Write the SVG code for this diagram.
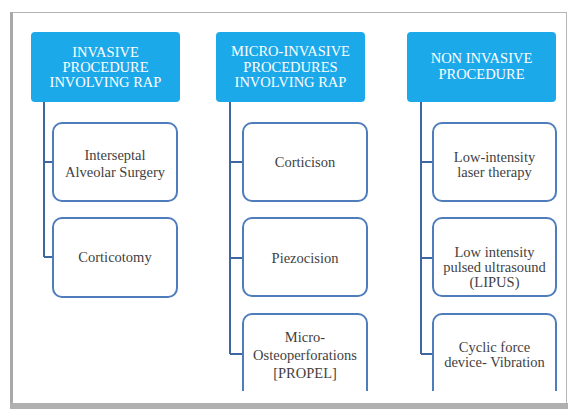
<svg xmlns="http://www.w3.org/2000/svg" width="568" height="409" viewBox="0 0 568 409">
  <style>
    .frame { fill: #ffffff; stroke: #b4b4b4; stroke-width: 1; }
    .head { fill: #1ba9ea; }
    .head-text { font-size: 14.5px; fill: #ffffff; text-anchor: middle; }
    .box { fill: #ffffff; stroke: #4f7dbb; stroke-width: 2; }
    .box-text { font-size: 14.5px; fill: #3f3f3f; text-anchor: middle; }
    .link { fill: none; stroke: #3d66a3; stroke-width: 2; }
  </style>
  <defs>
    <clipPath id="panel">
      <rect x="12" y="12" width="556" height="379"/>
    </clipPath>
  </defs>

  <!-- page panel with its shadow edges -->
  <rect x="0" y="0" width="568" height="409" fill="#ffffff"/>
  <rect class="frame" x="12.5" y="12.5" width="554" height="391"/>
  <rect x="10" y="12" width="3" height="396" fill="#a9a9a9"/>
  <rect x="10" y="403" width="558" height="6" fill="#b0b0b0"/>

  <!-- connectors -->
  <g id="connectors">
    <path class="link" d="M44 102 V257 M44 162 H53 M44 257 H53"/>
    <path class="link" d="M230 102 V354 M230 162 H243 M230 258 H243 M230 354 H243"/>
    <path class="link" d="M421 102 V354 M421 162 H433 M421 258 H433 M421 354 H433"/>
  </g>

  <g font-family="Liberation Serif, DejaVu Serif, serif">
  <!-- column 1 -->
  <g id="invasive">
    <rect class="head" x="31" y="32" width="149" height="70" rx="4"/>
    <text class="head-text" x="105.5" y="57">INVASIVE</text>
    <text class="head-text" x="105.5" y="72">PROCEDURE</text>
    <text class="head-text" x="105.5" y="87">INVOLVING RAP</text>
  </g>
  <g id="interseptal">
    <rect class="box" x="53" y="123" width="124" height="78" rx="9"/>
    <text class="box-text" x="115" y="160">Interseptal</text>
    <text class="box-text" x="115" y="177">Alveolar Surgery</text>
  </g>
  <g id="corticotomy">
    <rect class="box" x="53" y="218" width="124" height="79" rx="9"/>
    <text class="box-text" x="115" y="262">Corticotomy</text>
  </g>

  <!-- column 2 -->
  <g id="micro-invasive">
    <rect class="head" x="216" y="32" width="149" height="70" rx="4"/>
    <text class="head-text" x="290.5" y="56">MICRO-INVASIVE</text>
    <text class="head-text" x="290.5" y="72">PROCEDURES</text>
    <text class="head-text" x="290.5" y="87">INVOLVING RAP</text>
  </g>
  <g id="corticison">
    <rect class="box" x="243" y="123" width="124" height="78" rx="9"/>
    <text class="box-text" x="305" y="167">Corticison</text>
  </g>
  <g id="piezocision">
    <rect class="box" x="243" y="218" width="124" height="78" rx="9"/>
    <text class="box-text" x="305" y="263">Piezocision</text>
  </g>
  <g id="micro-osteoperforations">
    <rect class="box" x="243" y="314" width="124" height="90" rx="9" clip-path="url(#panel)"/>
    <text class="box-text" x="305" y="342">Micro-</text>
    <text class="box-text" x="305" y="360">Osteoperforations</text>
    <text class="box-text" x="305" y="378">[PROPEL]</text>
  </g>

  <!-- column 3 -->
  <g id="non-invasive">
    <rect class="head" x="407" y="32" width="149" height="70" rx="4"/>
    <text class="head-text" x="481.5" y="63">NON INVASIVE</text>
    <text class="head-text" x="481.5" y="79">PROCEDURE</text>
  </g>
  <g id="laser">
    <rect class="box" x="433" y="123" width="123" height="78" rx="9"/>
    <text class="box-text" x="494.5" y="162">Low-intensity</text>
    <text class="box-text" x="494.5" y="177">laser therapy</text>
  </g>
  <g id="lipus">
    <rect class="box" x="433" y="218" width="123" height="78" rx="9"/>
    <text class="box-text" x="494.5" y="257">Low intensity</text>
    <text class="box-text" x="494.5" y="272">pulsed ultrasound</text>
    <text class="box-text" x="494.5" y="287">(LIPUS)</text>
  </g>
  <g id="vibration">
    <rect class="box" x="433" y="314" width="123" height="90" rx="9" clip-path="url(#panel)"/>
    <text class="box-text" x="494.5" y="352">Cyclic force</text>
    <text class="box-text" x="494.5" y="367">device- Vibration</text>
  </g>
  </g>
</svg>
